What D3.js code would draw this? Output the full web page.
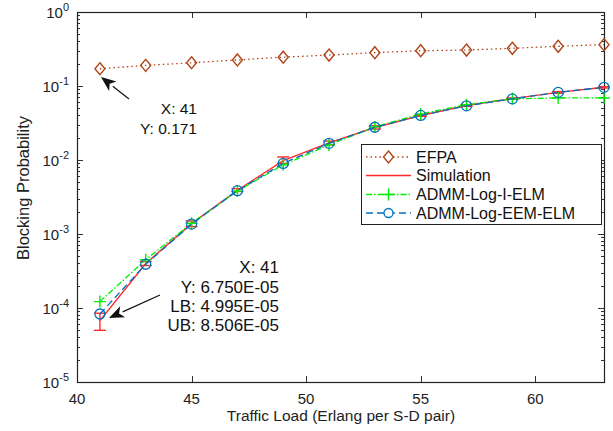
<!DOCTYPE html>
<html>
<head>
<meta charset="utf-8">
<script src="https://cdn.jsdelivr.net/npm/d3@7"></script>
<style>
  body { margin: 0; background: #fff; }
  svg { font-family: "Liberation Sans", Arial, sans-serif; }
</style>
</head>
<body>
<div id="svg-area"></div>
<script>
// data
var loads = [41, 43, 45, 47, 49, 51, 53, 55, 57, 59, 61, 63];
var efpa = [0.171, 0.19, 0.206, 0.225, 0.245, 0.262, 0.282, 0.30, 0.306, 0.323, 0.344, 0.362];
var simulation = [6.75e-5, 4.0e-4, 1.38e-3, 3.9e-3, 9.8e-3, 1.7e-2, 2.75e-2, 4.0e-2, 5.45e-2, 6.75e-2, 8.2e-2, 9.6e-2];
var simLB = [4.995e-5, 3.75e-4, 1.26e-3, 3.75e-3, 9.0e-3, 1.6e-2, 2.62e-2, 3.9e-2, 5.3e-2, 6.6e-2, 8.0e-2, 9.4e-2];
var simUB = [8.506e-5, 4.25e-4, 1.5e-3, 4.1e-3, 1.1e-2, 1.8e-2, 2.9e-2, 4.1e-2, 5.6e-2, 6.9e-2, 8.4e-2, 9.8e-2];
var iElm = [1.22e-4, 4.5e-4, 1.4e-3, 3.8e-3, 8.6e-3, 1.6e-2, 2.8e-2, 4.2e-2, 5.6e-2, 6.7e-2, 6.9e-2, 6.9e-2];
var eemElm = [8.3e-5, 3.9e-4, 1.36e-3, 3.85e-3, 9.0e-3, 1.68e-2, 2.77e-2, 4.0e-2, 5.4e-2, 6.7e-2, 8.2e-2, 9.6e-2];
var xTicks = [40, 45, 50, 55, 60];
var yExponents = [0, -1, -2, -3, -4, -5];
var legendNames = ["EFPA", "Simulation", "ADMM-Log-I-ELM", "ADMM-Log-EEM-ELM"];

var svgWidth = 613, svgHeight = 431;
var margin = { top: 12, right: 9, bottom: 49, left: 77 };
var width = svgWidth - margin.left - margin.right;
var height = svgHeight - margin.top - margin.bottom;

var colEfpa = "#b0451a", colSim = "#ff2a2a", colI = "#00ee00", colEem = "#0072bd";

var svg = d3.select("#svg-area")
    .append("svg")
    .attr("width", svgWidth)
    .attr("height", svgHeight)
;

var chartGroup = svg.append("g")
    .attr("transform", `translate(${margin.left}, ${margin.top})`)
;

var xScale = d3.scaleLinear().domain([40, 63]).range([0, width]);
var yScale = d3.scaleLog().domain([1e-5, 1]).range([height, 0]);

// minor log ticks (left + right, inward)
var minor = [];
for (var e = -5; e < 0; e++) {
    for (var m = 2; m <= 9; m++) minor.push(m * Math.pow(10, e));
}
var axisG = chartGroup.append("g").attr("stroke", "#333").attr("stroke-width", 1);
minor.forEach(function(v) {
    var y = Math.round(yScale(v)) + 0.5;
    axisG.append("line").attr("x1", 0).attr("x2", 3).attr("y1", y).attr("y2", y);
    axisG.append("line").attr("x1", width - 3).attr("x2", width).attr("y1", y).attr("y2", y);
});
yExponents.forEach(function(e) {
    var y = Math.round(yScale(Math.pow(10, e))) + 0.5;
    axisG.append("line").attr("x1", 0).attr("x2", 6).attr("y1", y).attr("y2", y);
    axisG.append("line").attr("x1", width - 6).attr("x2", width).attr("y1", y).attr("y2", y);
});
xTicks.forEach(function(t) {
    var x = Math.round(xScale(t)) + 0.5;
    axisG.append("line").attr("x1", x).attr("x2", x).attr("y1", height).attr("y2", height - 6);
    axisG.append("line").attr("x1", x).attr("x2", x).attr("y1", 0).attr("y2", 6);
});

// frame
chartGroup.append("rect")
    .attr("x", 0.5).attr("y", 0.5)
    .attr("width", width).attr("height", height)
    .attr("fill", "none").attr("stroke", "#222").attr("stroke-width", 1.2)
;

// tick labels
chartGroup.selectAll(".xl")
    .data(xTicks)
    .enter()
    .append("text")
    .attr("x", d => xScale(d))
    .attr("y", height + 22)
    .attr("text-anchor", "middle")
    .attr("font-size", 15)
    .attr("fill", "#222")
    .text(d => d)
;

var yl = chartGroup.selectAll(".yl")
    .data(yExponents)
    .enter()
    .append("text")
    .attr("x", -8)
    .attr("y", d => yScale(Math.pow(10, d)) + 6)
    .attr("text-anchor", "end")
    .attr("font-size", 15)
    .attr("fill", "#222")
;
yl.append("tspan").text("10");
yl.append("tspan").attr("dy", -7).attr("font-size", 11).text(d => d);

// axis titles
svg.append("text")
    .attr("x", 341)
    .attr("y", 421)
    .attr("text-anchor", "middle")
    .attr("font-size", 15.5)
    .attr("fill", "#222")
    .text("Traffic Load (Erlang per S-D pair)")
;
svg.append("text")
    .attr("transform", "translate(29, 188) rotate(-90)")
    .attr("text-anchor", "middle")
    .attr("font-size", 16.5)
    .attr("fill", "#222")
    .text("Blocking Probability")
;

var line = d3.line()
    .x((d, i) => xScale(loads[i]))
    .y(d => yScale(d))
;

// EFPA
chartGroup.append("path")
    .attr("d", line(efpa))
    .attr("fill", "none").attr("stroke", colEfpa).attr("stroke-width", 1.3)
    .attr("stroke-dasharray", "1.5,3")
;
chartGroup.selectAll(".dia")
    .data(efpa)
    .enter()
    .append("path")
    .attr("d", "M0,-6L5,0L0,6L-5,0Z")
    .attr("transform", (d, i) => `translate(${xScale(loads[i])},${yScale(d)})`)
    .attr("fill", "none").attr("stroke", colEfpa).attr("stroke-width", 1.4)
;

// Simulation with error bars
chartGroup.append("path")
    .attr("d", line(simulation))
    .attr("fill", "none").attr("stroke", colSim).attr("stroke-width", 1.4)
;
var eb = chartGroup.selectAll(".eb")
    .data(simulation)
    .enter()
    .append("g")
    .attr("stroke", colSim).attr("stroke-width", 1.4)
;
eb.append("line")
    .attr("x1", (d, i) => xScale(loads[i])).attr("x2", (d, i) => xScale(loads[i]))
    .attr("y1", (d, i) => yScale(simLB[i])).attr("y2", (d, i) => yScale(simUB[i]));
eb.append("line")
    .attr("x1", (d, i) => xScale(loads[i]) - 6).attr("x2", (d, i) => xScale(loads[i]) + 6)
    .attr("y1", (d, i) => yScale(simLB[i])).attr("y2", (d, i) => yScale(simLB[i]));
eb.append("line")
    .attr("x1", (d, i) => xScale(loads[i]) - 6).attr("x2", (d, i) => xScale(loads[i]) + 6)
    .attr("y1", (d, i) => yScale(simUB[i])).attr("y2", (d, i) => yScale(simUB[i]));

// ADMM-Log-I-ELM
chartGroup.append("path")
    .attr("d", line(iElm))
    .attr("fill", "none").attr("stroke", colI).attr("stroke-width", 1.3)
    .attr("stroke-dasharray", "6,2,1.5,2")
;
chartGroup.selectAll(".plus")
    .data(iElm)
    .enter()
    .append("path")
    .attr("d", "M-6,0H6M0,-6V6")
    .attr("transform", (d, i) => `translate(${xScale(loads[i])},${yScale(d)})`)
    .attr("stroke", colI).attr("stroke-width", 1.4)
;

// ADMM-Log-EEM-ELM
chartGroup.append("path")
    .attr("d", line(eemElm))
    .attr("fill", "none").attr("stroke", colEem).attr("stroke-width", 1.3)
    .attr("stroke-dasharray", "7,4")
;
chartGroup.selectAll(".circ")
    .data(eemElm)
    .enter()
    .append("circle")
    .attr("cx", (d, i) => xScale(loads[i]))
    .attr("cy", d => yScale(d))
    .attr("r", 5)
    .attr("fill", "none").attr("stroke", colEem).attr("stroke-width", 1.3)
;

// data tips
function arrow(x1, y1, x2, y2) {
    var a = Math.atan2(y2 - y1, x2 - x1);
    var len = 15, w = 6;
    var bx = x2 - len * Math.cos(a), by = y2 - len * Math.sin(a);
    svg.append("line")
        .attr("x1", x1).attr("y1", y1).attr("x2", bx).attr("y2", by)
        .attr("stroke", "#111").attr("stroke-width", 1.2);
    svg.append("path")
        .attr("d", `M${x2},${y2}L${bx + w * Math.sin(a)},${by - w * Math.cos(a)}L${bx + 4 * Math.cos(a)},${by + 4 * Math.sin(a)}L${bx - w * Math.sin(a)},${by + w * Math.cos(a)}Z`)
        .attr("fill", "#111");
}
arrow(129, 99, 101, 77);
arrow(160, 295, 109, 318);

function tip(x, ys, lines, size) {
    lines.forEach(function(t, i) {
        svg.append("text")
            .attr("x", x).attr("y", ys[i])
            .attr("text-anchor", "end")
            .attr("font-size", size)
            .attr("fill", "#111")
            .text(t);
    });
}
tip(197, [114, 134], ["X: 41", "Y: 0.171"], 15.5);
tip(279, [273, 293, 312, 331], ["X: 41", "Y: 6.750E-05", "LB: 4.995E-05", "UB: 8.506E-05"], 17);

// legend
var legend = svg.append("g");
legend.append("rect")
    .attr("x", 361.5).attr("y", 144.5)
    .attr("width", 240).attr("height", 80)
    .attr("fill", "#fff").attr("stroke", "#222").attr("stroke-width", 1);
var legendY = [157, 175.5, 194.5, 213];
var legendCol = [colEfpa, colSim, colI, colEem];
var legendDash = ["1.5,3", null, "6,2,1.5,2", "7,4"];
legendNames.forEach(function(name, i) {
    var y = legendY[i];
    legend.append("line")
        .attr("x1", 366).attr("x2", 411).attr("y1", y).attr("y2", y)
        .attr("stroke", legendCol[i]).attr("stroke-width", 1.4)
        .attr("stroke-dasharray", legendDash[i]);
    var cx = 388.5;
    if (i === 0) legend.append("path").attr("d", `M${cx},${y - 6}L${cx + 5},${y}L${cx},${y + 6}L${cx - 5},${y}Z`)
        .attr("fill", "#fff").attr("stroke", colEfpa).attr("stroke-width", 1.4);
    if (i === 2) legend.append("path").attr("d", `M${cx - 6},${y}H${cx + 6}M${cx},${y - 6}V${y + 6}`)
        .attr("stroke", colI).attr("stroke-width", 1.4);
    if (i === 3) legend.append("circle").attr("cx", cx).attr("cy", y).attr("r", 4.5)
        .attr("fill", "#fff").attr("stroke", colEem).attr("stroke-width", 1.3);
    legend.append("text")
        .attr("x", 416).attr("y", y + 5.5)
        .attr("font-size", 16)
        .attr("fill", "#111")
        .text(name);
});
</script>
</body>
</html>
